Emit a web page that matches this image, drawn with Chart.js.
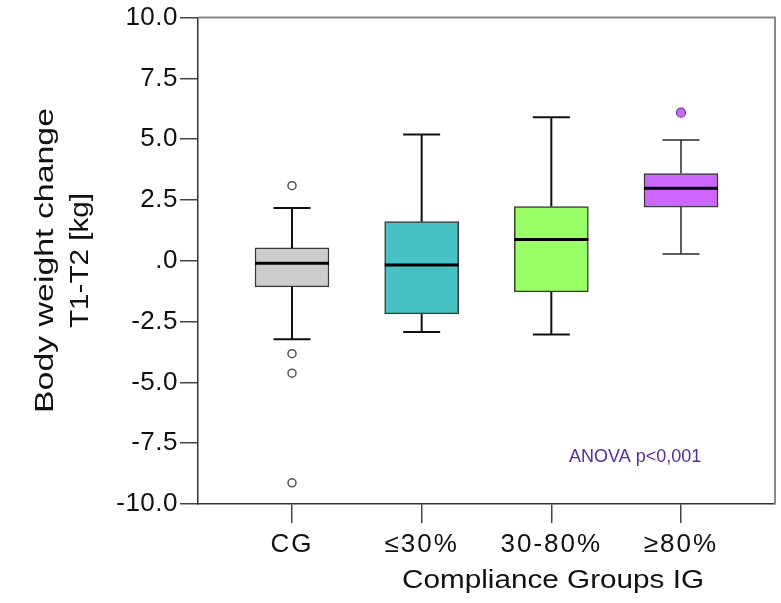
<!DOCTYPE html>
<html>
<head>
<meta charset="utf-8">
<script src="https://cdn.jsdelivr.net/npm/chart.js@4.4.0/dist/chart.umd.min.js"></script>
<style>
  html, body { margin: 0; padding: 0; background: #ffffff; }
  canvas { display: block; }
</style>
</head>
<body>
<canvas id="c" width="781" height="603"></canvas>
<script>
// ---- data ----
const categories   = ['CG', '\u226430%', '30-80%', '\u226580%'];
const whiskerLow   = [-3.23, -2.93, -3.03, 0.28];
const q1           = [-1.07, -2.18, -1.28, 2.21];
const median       = [-0.10, -0.17, 0.88, 2.98];
const q3           = [0.53, 1.61, 2.23, 3.59];
const whiskerHigh  = [2.17, 5.19, 5.90, 4.97];
const outliersCG   = [3.09, -3.82, -4.62, -9.13];
const outliersHigh = [6.09];
const yTickValues  = [-10, -7.5, -5, -2.5, 0, 2.5, 5, 7.5, 10];
const yTickLabels  = ['-10.0', '-7.5', '-5.0', '-2.5', '.0', '2.5', '5.0', '7.5', '10.0'];
const boxColors    = ['#cccccc', '#47c1c4', '#99ff66', '#cc66ff'];
const yTitleLines  = ['Body weight change', 'T1-T2 [kg]'];
const xTitle       = 'Compliance Groups IG';
const noteText     = 'ANOVA p<0,001';

const FONT = "'Liberation Sans', Arial, Helvetica, sans-serif";

const canvas = document.getElementById('c');
const ctx = canvas.getContext('2d');
const origFill = CanvasRenderingContext2D.prototype.fillText;
// slightly wider letter spacing for axis tick labels (reference font is wide)
ctx.fillText = function (text, x, y, maxWidth) {
  const prev = this.letterSpacing;
  if (this.textAlign === 'center') this.letterSpacing = '2px';
  else if (this.textAlign === 'right') this.letterSpacing = '0.5px';
  origFill.call(this, text, x, y, maxWidth);
  this.letterSpacing = prev;
};

function stretchedText(c, text, x, y, targetWidth, rotate) {
  c.save();
  c.translate(x, y);
  if (rotate) c.rotate(-Math.PI / 2);
  const w = c.measureText(text).width;
  c.scale(targetWidth / w, 1);
  c.textAlign = 'center';
  c.textBaseline = 'alphabetic';
  origFill.call(c, text, 0, 0);
  c.restore();
}

const boxPlugin = {
  id: 'boxparts',
  afterDatasetsDraw(chart) {
    const c = chart.ctx;
    const ys = chart.scales.y;
    const meta = chart.getDatasetMeta(0);
    c.save();
    meta.data.forEach((bar, i) => {
      const x = bar.x;
      const half = bar.width / 2;
      const cap = half / 2;
      c.strokeStyle = i === 3 ? '#2a2a2a' : '#111111';
      c.lineWidth = i === 3 ? 1.5 : 2;
      c.lineCap = 'butt';
      // upper whisker
      c.beginPath();
      c.moveTo(x, ys.getPixelForValue(q3[i]));
      c.lineTo(x, ys.getPixelForValue(whiskerHigh[i]));
      c.moveTo(x - cap, ys.getPixelForValue(whiskerHigh[i]));
      c.lineTo(x + cap, ys.getPixelForValue(whiskerHigh[i]));
      // lower whisker
      c.moveTo(x, ys.getPixelForValue(q1[i]));
      c.lineTo(x, ys.getPixelForValue(whiskerLow[i]));
      c.moveTo(x - cap, ys.getPixelForValue(whiskerLow[i]));
      c.lineTo(x + cap, ys.getPixelForValue(whiskerLow[i]));
      c.stroke();
      // median
      c.strokeStyle = '#000000';
      c.lineWidth = 3;
      c.beginPath();
      c.moveTo(x - half, ys.getPixelForValue(median[i]));
      c.lineTo(x + half, ys.getPixelForValue(median[i]));
      c.stroke();
    });
    c.restore();
  },
  afterDraw(chart) {
    const c = chart.ctx;
    const a = chart.chartArea;
    c.save();
    // top and right frame
    c.strokeStyle = '#8a8a8a';
    c.lineWidth = 2;
    c.beginPath();
    c.moveTo(a.left, a.top);
    c.lineTo(a.right, a.top);
    c.lineTo(a.right, a.bottom);
    c.stroke();
    // axis titles
    c.fillStyle = '#111111';
    c.font = '26px ' + FONT;
    stretchedText(c, yTitleLines[0], 53, 260.5, 305, true);
    stretchedText(c, yTitleLines[1], 88, 260.5, 135, true);
    stretchedText(c, xTitle, 553, 588, 302, false);
    // note
    c.fillStyle = '#5b2d94';
    c.font = '18px ' + FONT;
    c.textAlign = 'left';
    c.textBaseline = 'alphabetic';
    origFill.call(c, noteText, a.right - 206, a.bottom - 42);
    c.restore();
  }
};

new Chart(ctx, {
  type: 'bar',
  data: {
    datasets: [
      {
        label: 'box',
        data: categories.map((c, i) => ({ x: i + 1, y: [q1[i], q3[i]] })),
        backgroundColor: boxColors,
        borderColor: '#3a3a3a',
        borderWidth: 1.5,
        borderSkipped: false,
        barThickness: 74
      },
      {
        type: 'scatter',
        label: 'outliers CG',
        data: outliersCG.map(v => ({ x: 1, y: v })),
        pointRadius: 4,
        pointBackgroundColor: '#ffffff',
        pointBorderColor: '#555555',
        pointBorderWidth: 1.5
      },
      {
        type: 'scatter',
        label: 'outliers >=80%',
        data: outliersHigh.map(v => ({ x: 4, y: v })),
        pointRadius: 4.5,
        pointBackgroundColor: '#cc66ff',
        pointBorderColor: '#6a3d8a',
        pointBorderWidth: 1.2
      }
    ]
  },
  options: {
    responsive: false,
    animation: false,
    devicePixelRatio: 1,
    layout: { padding: { top: 15, right: 6, left: 0, bottom: 0 } },
    plugins: { legend: { display: false }, tooltip: { enabled: false } },
    scales: {
      x: {
        type: 'linear',
        offset: false,
        min: 0.275,
        max: 4.725,
        afterBuildTicks: s => { s.ticks = categories.map((c, i) => ({ value: i + 1 })); },
        afterFit: s => { s.height = 99; },
        ticks: {
          callback: v => categories[Math.round(v) - 1],
          font: { family: FONT, size: 26 },
          color: '#111111',
          padding: 6,
          autoSkip: false,
          maxRotation: 0
        },
        grid: { offset: false, drawOnChartArea: false, drawTicks: true, tickLength: 19, color: '#444444', lineWidth: 1.5 },
        border: { display: true, color: '#333333', width: 1.5 }
      },
      y: {
        type: 'linear',
        min: -10,
        max: 10,
        afterBuildTicks: s => { s.ticks = yTickValues.map(v => ({ value: v })); },
        afterFit: s => { s.width = 198; },
        ticks: {
          callback: v => { const k = yTickValues.indexOf(v); return k >= 0 ? yTickLabels[k] : ''; },
          font: { family: FONT, size: 26 },
          color: '#111111',
          padding: 2
        },
        grid: { drawOnChartArea: false, drawTicks: true, tickLength: 18, color: '#444444', lineWidth: 1.5 },
        border: { display: true, color: '#333333', width: 1.5 }
      }
    }
  },
  plugins: [boxPlugin]
});
</script>
</body>
</html>
